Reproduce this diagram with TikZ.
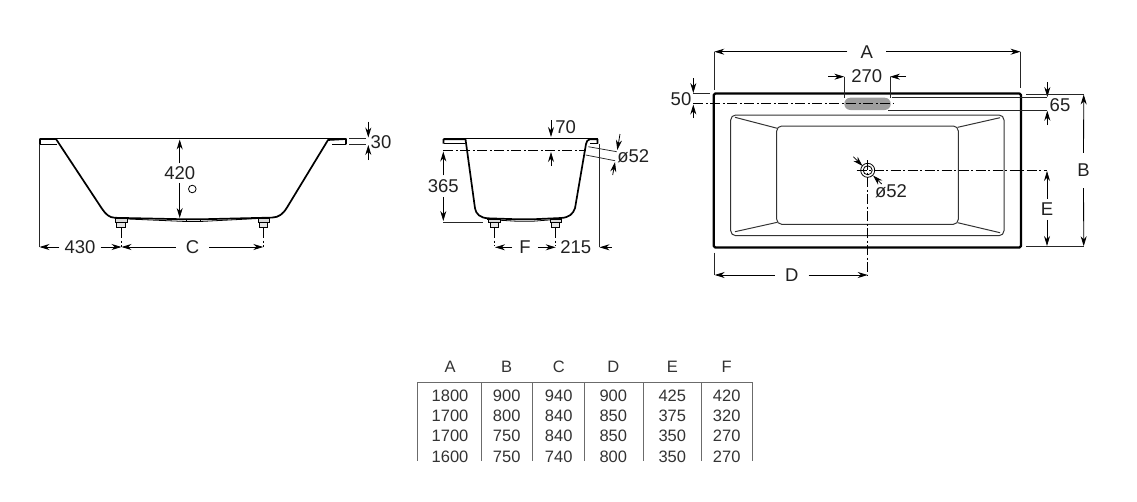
\documentclass[tikz,border=0pt]{standalone}
\usepackage{fontspec}
\setmainfont{Liberation Sans}
\usetikzlibrary{arrows.meta}
\definecolor{inkgray}{gray}{0.13}
\definecolor{cellgray}{gray}{0.2}
\definecolor{rulegray}{gray}{0.42}
\tikzset{
  lbl/.style={inkgray, inner xsep=5pt, inner ysep=3pt, font=\fontsize{18.5}{18.5}\selectfont},
  cell/.style={cellgray, inner sep=0pt, font=\fontsize{16.5}{16.5}\selectfont},
  dimline/.style={line width=0.8pt, >={Stealth[length=10pt,width=6pt]}},
  extline/.style={line width=0.75pt, black!85},
  axisline/.style={line width=0.85pt, dash pattern=on 10pt off 2.5pt on 2pt off 2.5pt},
  tubline/.style={line width=1.7pt, line join=round},
  thinline/.style={line width=0.8pt},
  innerline/.style={line width=1pt, black!80}
}
\begin{document}
\begin{tikzpicture}[x=1pt, y=-1pt]

  \useasboundingbox (0,0) rectangle (1137,501);

  % long section
  \draw[thinline] (40,138.7) -- (346,138.7);
  \draw[tubline] (40,144.5) -- (40,139) -- (56,139) -- (101.5,208) .. controls (106,214.5) and (109,217.5) .. (115,217.8)
    -- (186,219.3) -- (200,219.3) -- (272,217.6) .. controls (279,217.3) and (283,214) .. (287,207.5) -- (328,140) -- (346,139) -- (346,144.3);
  \draw[thinline] (40,144) -- (57,144);
  \draw[thinline] (332,144) -- (346,144);
  \draw[thinline] (116,218.5) -- (186,221.5) -- (200,221.5) -- (268,218);
  \draw[thinline] (186,219.5) -- (186,221.5) (200,219.5) -- (200,221.5);
  \draw[thinline, fill=black!15] (115,218.5) rectangle (127,222.5) (258,218.5) rectangle (269,222.5);
  \draw[thinline, fill=black!10] (116.5,222.5) rectangle (125.5,227) (259.5,222.5) rectangle (267.5,227);
  \draw[thinline] (192.3,189) circle (3.8);

  \node[lbl] (lbl420) at (179.7,173) {420};
  \coordinate (top420) at (179.7,139.5);
  \coordinate (bot420) at (179.7,218);
  \draw[dimline,->] (lbl420) -- (top420);
  \draw[dimline,->] (lbl420) -- (bot420);

  \draw[extline] (349,138.3) -- (366,138.3);
  \draw[extline] (349,144.3) -- (366,144.3);
  \node[lbl] (lbl30) at (381,142) {30};
  \draw[dimline,->] (368.3,121.7) -- (368.3,137.5);
  \draw[dimline,->] (368.3,160) -- (368.3,145);

  \draw[extline] (39.5,144) -- (39.5,247);
  \draw[axisline] (121.5,228) -- (121.5,247);
  \draw[axisline] (263.3,228) -- (263.3,247);
  \node[lbl] (lbl430) at (80,247) {430};
  \node[lbl, inner xsep=10pt] (lblC) at (192.5,247) {C};
  \coordinate (footL) at (121.5,247);
  \coordinate (footR) at (263.3,247);
  \coordinate (edgeL) at (39.5,247);
  \draw[dimline,->] (lbl430) -- (edgeL);
  \draw[dimline,->] (lbl430) -- (footL);
  \draw[dimline,->] (lblC) -- (footL);
  \draw[dimline,->] (lblC) -- (footR);

  % cross section
  \draw[thinline] (443.5,138.7) -- (597.5,138.7);
  \draw[tubline] (443.5,143.5) -- (443.5,139.2) -- (465.5,139.2) -- (475,208.3) .. controls (476,214) and (480,217.8) .. (488,218.3)
    -- (518,219.3) -- (532,219.3) -- (561,218) .. controls (569,217.5) and (573,214) .. (575,208.3) -- (586,144) .. controls (586.5,141) and (587.5,140) .. (590,139.2) -- (597.5,139.2) -- (597.5,143.5);
  \draw[thinline] (443.5,143.5) -- (465,143.5);
  \draw[thinline] (590,143.5) -- (597.5,143.5);
  \draw[thinline] (487,219.5) -- (518,221.3) -- (532,221.3) -- (562,219);
  \draw[thinline, fill=black!15] (488.5,219.5) rectangle (500,222.5) (550,219.5) rectangle (561,222.5);
  \draw[thinline, fill=black!10] (490,222.5) rectangle (498.5,227.3) (551.5,222.5) rectangle (559.5,227.3);
  \draw[axisline] (443.3,150.3) -- (585.7,150.3);

  \node[lbl] (lbl70) at (565.7,126.7) {70};
  \draw[dimline,->] (551,120) -- (551,137);
  \draw[dimline,->] (551,166) -- (551,152);

  \draw[extline] (588.3,146.7) -- (616.7,151.7);
  \draw[extline] (585.7,155) -- (615,160.7);
  \node[lbl, inner xsep=0pt] (lblPipe) at (633.3,156) {ø52};
  \draw[dimline,->] (620,134) -- (617.3,150);
  \draw[dimline,->] (612.7,175) -- (615,162);

  \draw[extline] (443.3,222) -- (482.7,222);
  \node[lbl, inner ysep=4pt] (lbl365) at (443.3,186) {365};
  \coordinate (axis365) at (443.3,151.5);
  \coordinate (base365) at (443.3,221);
  \draw[dimline,->] (lbl365) -- (axis365);
  \draw[dimline,->] (lbl365) -- (base365);

  \draw[axisline] (494,228) -- (494,246);
  \draw[axisline] (555.7,228) -- (555.7,246);
  \draw[extline] (599,144) -- (599,247.3);
  \node[lbl, inner xsep=7pt] (lblF) at (525,247.3) {F};
  \node[lbl, inner xsep=0pt] (lbl215) at (575.7,247.3) {215};
  \coordinate (footF) at (495,247.3);
  \coordinate (footG) at (555.7,247.3);
  \draw[dimline,->] (lblF) -- (footF);
  \draw[dimline,->] (lblF) -- (footG);
  \draw[dimline,->] (611.7,247.3) -- (599.5,247.3);

  % plan
  \draw[tubline, line width=2.2pt, rounded corners=1.5pt] (713.7,93.5) rectangle (1021,247.5);
  \draw[innerline, rounded corners=5pt] (730.7,115) rectangle (1004,235.7);
  \draw[innerline, rounded corners=5pt] (776.7,126) rectangle (958.3,224.3);
  \draw[innerline] (735,117.3) -- (777.3,128.3);
  \draw[innerline] (957.7,127.3) -- (1000,117.7);
  \draw[innerline] (957.7,222.7) -- (1000,232.7);
  \draw[innerline] (735,231.7) -- (777.3,222.3);

  \draw[extline] (714.3,51.7) -- (714.3,90);
  \draw[extline] (1020.5,51.7) -- (1020.5,88);
  \node[lbl, inner xsep=13pt] (lblA) at (866.7,51.7) {A};
  \coordinate (sideL) at (714.3,51.7);
  \coordinate (sideR) at (1020.5,51.7);
  \draw[dimline,->] (lblA) -- (sideL);
  \draw[dimline,->] (lblA) -- (sideR);

  \draw[fill=black!38, draw=none, rounded corners=6pt] (844.3,97.7) rectangle (890.7,110);
  \draw[axisline] (693.3,103.7) -- (893.3,103.7);
  \node[lbl] (lbl270) at (866.7,75.7) {270};
  \draw[extline] (844.3,76.7) -- (844.3,98);
  \draw[extline] (890,76.7) -- (890,98);
  \draw[dimline,->] (828.3,76.7) -- (844.3,76.7);
  \draw[dimline,->] (906,76.7) -- (890,76.7);

  \node[lbl, inner xsep=0pt] (lbl50) at (681,99) {50};
  \draw[extline] (693,93.7) -- (710,93.7);
  \draw[dimline,->] (693.3,78.3) -- (693.3,93);
  \draw[dimline,->] (693.3,118) -- (693.3,104.5);

  \node[lbl, inner xsep=0pt] (lbl65) at (1060,105) {65};
  \draw[extline] (891.7,97.7) -- (1046.7,97.7);
  \draw[extline] (888,110) -- (1046.7,110);
  \draw[dimline,->] (1047.3,82.3) -- (1047.3,97);
  \draw[dimline,->] (1047.3,125) -- (1047.3,110.7);

  \draw[extline] (1026,94) -- (1083.7,94);
  \draw[extline] (1026,246.7) -- (1083.7,246.7);
  \node[lbl, inner ysep=11pt] (lblB) at (1083.5,170.5) {B};
  \coordinate (sideT) at (1083.7,94.5);
  \coordinate (sideB) at (1083.7,246.2);
  \draw[dimline,->] (lblB) -- (sideT);
  \draw[dimline,->] (lblB) -- (sideB);

  \draw[axisline] (856.7,170.3) -- (1046.7,170.3);
  \draw[axisline] (867.7,160) -- (867.7,275);
  \draw[thinline] (867.7,170.3) circle (7);
  \draw[thinline] (867.7,170.3) circle (4.5);
  \node[lbl, inner xsep=0pt] (lblDrain) at (891,191.7) {ø52};
  \draw[dimline,->] (853.3,156.7) -- (862.5,166);
  \draw[dimline,->] (881.7,184) -- (873,175.5);

  \node[lbl, inner ysep=4pt] (lblE) at (1047,209.3) {E};
  \coordinate (axisE) at (1047,171);
  \coordinate (baseE) at (1047,246);
  \draw[dimline,->] (lblE) -- (axisE);
  \draw[dimline,->] (lblE) -- (baseE);

  \draw[extline] (714.7,252.7) -- (714.7,275);
  \node[lbl, inner xsep=10pt] (lblD) at (791.7,275) {D};
  \coordinate (startD) at (714.7,275);
  \coordinate (drainD) at (867.7,275);
  \draw[dimline,->] (lblD) -- (startD);
  \draw[dimline,->] (lblD) -- (drainD);

  % table
  \draw[line width=1.1pt, rulegray] (417.7,382.3) -- (752.7,382.3);
  \draw[line width=1pt, rulegray] (417.7,382.3) -- (417.7,461);
  \draw[line width=1pt, rulegray] (481.7,382.3) -- (481.7,461);
  \draw[line width=1pt, rulegray] (532.7,382.3) -- (532.7,461);
  \draw[line width=1pt, rulegray] (584.3,382.3) -- (584.3,461);
  \draw[line width=1pt, rulegray] (643.3,382.3) -- (643.3,461);
  \draw[line width=1pt, rulegray] (701.3,382.3) -- (701.3,461);
  \draw[line width=1pt, rulegray] (752.7,382.3) -- (752.7,461);

  \newcommand\CA{450}
  \newcommand\CB{506.7}
  \newcommand\CC{558.7}
  \newcommand\CD{613.3}
  \newcommand\CE{672.3}
  \newcommand\CF{726.7}

  \foreach \name/\cx/\hd/\ra/\rb/\rc/\rd in {
    A/\CA/A/1800/1700/1700/1600,
    B/\CB/B/900/800/750/750,
    C/\CC/C/940/840/840/740,
    D/\CD/D/900/850/850/800,
    E/\CE/E/425/375/350/350,
    F/\CF/F/420/320/270/270}
  {
    \node[cell] (head\name) at (\cx,367.3) {\hd};
    \node[cell] (row\name a) at (\cx,396) {\ra};
    \node[cell] (row\name b) at (\cx,416) {\rb};
    \node[cell] (row\name c) at (\cx,436) {\rc};
    \node[cell] (row\name d) at (\cx,456.5) {\rd};
  }

\end{tikzpicture}
\end{document}
